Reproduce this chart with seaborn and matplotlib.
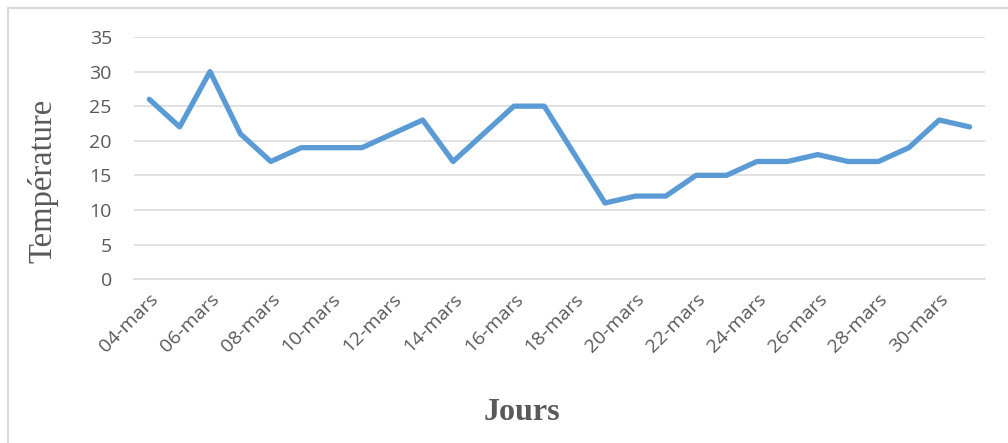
import pandas as pd
import seaborn as sns
import matplotlib.pyplot as plt
from matplotlib.lines import Line2D

days = ['04-mars', '05-mars', '06-mars', '07-mars', '08-mars', '09-mars', '10-mars',
        '11-mars', '12-mars', '13-mars', '14-mars', '15-mars', '16-mars', '17-mars',
        '18-mars', '19-mars', '20-mars', '21-mars', '22-mars', '23-mars', '24-mars',
        '25-mars', '26-mars', '27-mars', '28-mars', '29-mars', '30-mars', '31-mars']
temperature = [26, 22, 30, 21, 17, 19, 19, 19, 21, 23, 17, 21, 25, 25,
               18, 11, 12, 12, 15, 15, 17, 17, 18, 17, 17, 19, 23, 22]
y_ticks = [0, 5, 10, 15, 20, 25, 30, 35]

data = pd.DataFrame({'Jours': days, 'Température': temperature})
data['pos'] = range(len(days))

sns.set_style('white')
text_col = '#595959'
grid_col = '#D9D9D9'

fig = plt.figure(figsize=(10.08, 4.43), dpi=100)
ax = fig.add_axes([0.133, 0.370, 0.844, 0.5465])

sns.lineplot(data=data, x='pos', y='Température', ax=ax, color='#5B9BD5', linewidth=3.8)

ax.set_xlim(-0.5, len(days) - 0.5)
ax.set_ylim(0, 35)
ax.set_yticks(y_ticks)
ax.yaxis.grid(True, color=grid_col, linewidth=1.1)
ax.set_axisbelow(True)

# labels every second day, tick marks on category boundaries
ax.set_xticks(data['pos'][::2])
ax.set_xticklabels(data['Jours'][::2], rotation=45, ha='right', rotation_mode='anchor',
                   fontsize=14, color=text_col, family='Open Sans')
ax.set_xticks([p - 0.5 for p in range(0, len(days) + 1, 2)], minor=True)
ax.tick_params(axis='x', which='major', length=0, pad=8)
ax.tick_params(axis='x', which='minor', length=6, color=grid_col, width=1.1, direction='out')
ax.tick_params(axis='y', length=0, pad=16, labelsize=14, labelcolor=text_col)
for lab in ax.get_yticklabels():
    lab.set_family('Open Sans')

for s in ['top', 'right', 'left']:
    ax.spines[s].set_visible(False)
ax.spines['bottom'].set_color(grid_col)
ax.spines['bottom'].set_linewidth(1.1)

ax.set_xlabel('Jours', fontsize=23, fontweight='bold', family='Liberation Serif',
              color=text_col)
ax.set_ylabel('Température', fontsize=23.5, family='Liberation Serif',
              color=text_col)
ax.xaxis.set_label_coords(0.456, -0.49)
ax.yaxis.set_label_coords(-0.107, 0.405)
ax.yaxis.label.set_va('center')

# chart border (top and left visible only)
fig.add_artist(Line2D([8 / 1008, 1.0], [1 - 8 / 443, 1 - 8 / 443], color=grid_col, linewidth=1.5))
fig.add_artist(Line2D([8 / 1008, 8 / 1008], [0.0, 1 - 8 / 443], color=grid_col, linewidth=1.5))

fig.savefig('out.png', dpi=100)
